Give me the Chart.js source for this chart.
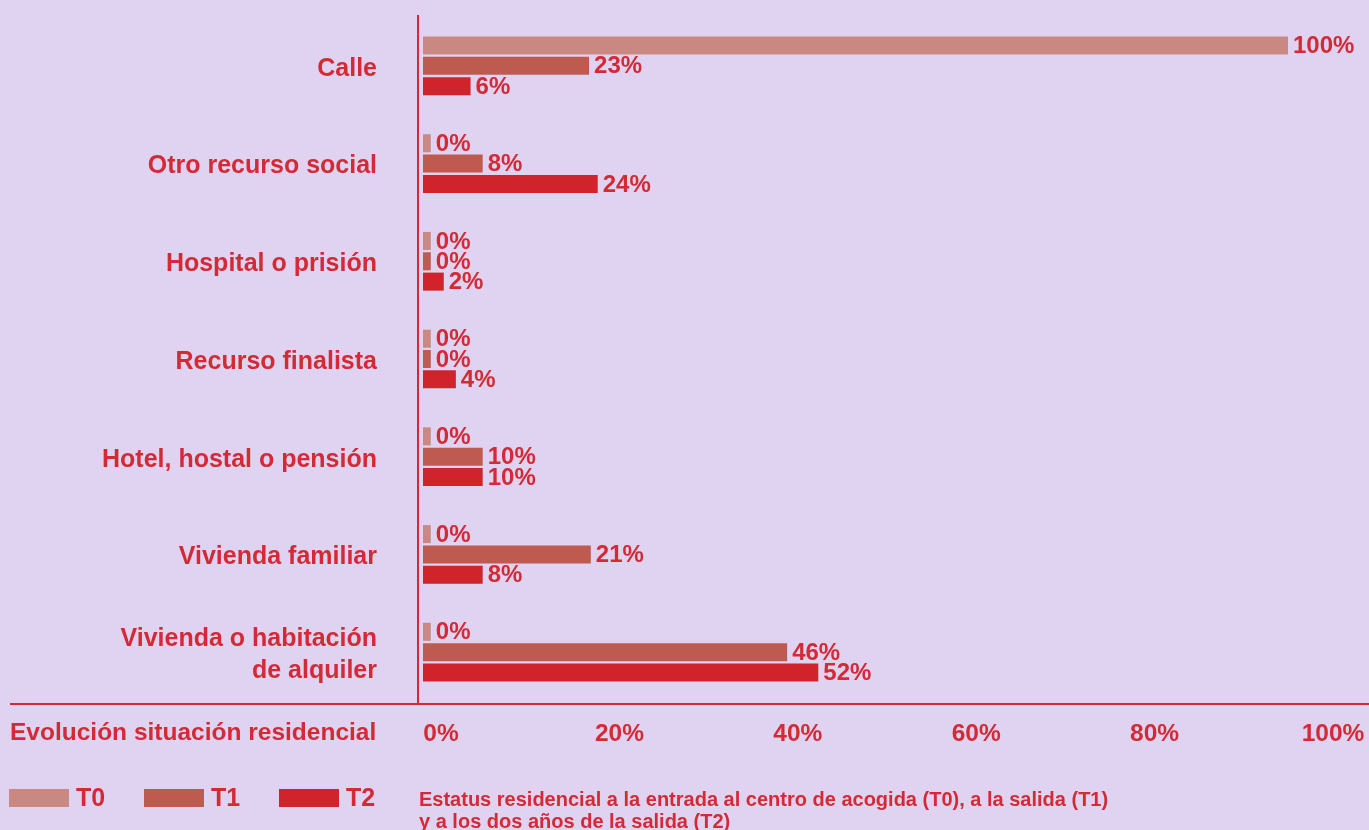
<!DOCTYPE html>
<html>
<head>
<meta charset="utf-8">
<script src="https://cdn.jsdelivr.net/npm/chart.js@4"></script>
<style>
	html, body { margin: 0; padding: 0; background: #DFD3F1; }
	#wrap { width: 1369px; height: 830px; }
</style>
</head>
<body>
<div id="wrap"><canvas id="chart"></canvas></div>
<script>
const categories = [
	'Calle',
	'Otro recurso social',
	'Hospital o prisión',
	'Recurso finalista',
	'Hotel, hostal o pensión',
	'Vivienda familiar',
	['Vivienda o habitación', 'de alquiler'],
]
const seriesNames = ['T0', 'T1', 'T2']

// percentages printed next to each bar
const t0 = [100, 0, 0, 0, 0, 0, 0]
const t1 = [23, 8, 0, 0, 10, 21, 46]
const t2 = [6, 24, 2, 4, 10, 8, 52]

// bar lengths as drawn in the picture (not to scale with the printed values)
const t0Bar = [100, 0.9, 0.9, 0.9, 0.9, 0.9, 0.9]
const t1Bar = [19.2, 6.9, 0.9, 0.9, 6.9, 19.4, 42.1]
const t2Bar = [5.5, 20.2, 2.4, 3.8, 6.9, 6.9, 45.7]

const tickValues = [0, 20, 40, 60, 80, 100]

const title = 'Evolución situación residencial'
const caption = [
	'Estatus residencial a la entrada al centro de acogida (T0), a la salida (T1)',
	'y a los dos años de la salida (T2)',
]

const bg = '#DFD3F1'
const red = '#D42A35'
const colors = ['#C98982', '#BF5A50', '#D1232B']
const family = '"Liberation Sans", Arial, sans-serif'

const decor = {
	id: 'decor',
	beforeDraw(chart) {
		const ctx = chart.ctx
		ctx.save()
		ctx.fillStyle = bg
		ctx.fillRect(0, 0, chart.width, chart.height)
		ctx.restore()
	},
	afterDatasetsDraw(chart) {
		const ctx = chart.ctx
		const printed = [t0, t1, t2]
		ctx.save()
		ctx.fillStyle = red
		ctx.font = `bold 24px ${family}`
		ctx.textAlign = 'left'
		ctx.textBaseline = 'middle'
		chart.data.datasets.forEach((ds, i) => {
			chart.getDatasetMeta(i).data.forEach((bar, j) => {
				ctx.fillText(printed[i][j] + '%', bar.x + 5, bar.y + 1)
			})
		})
		ctx.restore()
	},
	afterDraw(chart) {
		const ctx = chart.ctx
		ctx.save()
		// axis lines
		ctx.fillStyle = red
		ctx.fillRect(417, 15, 2, 690)
		ctx.fillRect(10, 703, chart.width - 10, 2)

		ctx.textAlign = 'left'
		ctx.textBaseline = 'middle'
		ctx.font = `bold 24.5px ${family}`
		ctx.fillText(title, 10, 733)

		// legend
		const legendX = [9, 144, 279]
		seriesNames.forEach((name, i) => {
			ctx.fillStyle = colors[i]
			ctx.fillRect(legendX[i], 789, 60, 18)
			ctx.fillStyle = red
			ctx.font = `bold 25px ${family}`
			ctx.fillText(name, legendX[i] + 67, 799)
		})

		ctx.font = `bold 20px ${family}`
		caption.forEach((line, i) => ctx.fillText(line, 419, 800 + i * 22))
		ctx.restore()
	}
}

const xMax = 100 * (1369 - 423) / 865
const x2Min = -18 / 8.92
const x2Max = x2Min + (1369 - 423) / 8.92

function noPadding(scale) {
	scale.paddingTop = 0
	scale.paddingBottom = 0
	scale.paddingLeft = 0
	scale.paddingRight = 0
}

new Chart(document.getElementById('chart'), {
	type: 'bar',
	data: {
		labels: categories,
		datasets: [
			{ label: seriesNames[0], data: t0Bar, backgroundColor: colors[0] },
			{ label: seriesNames[1], data: t1Bar, backgroundColor: colors[1] },
			{ label: seriesNames[2], data: t2Bar, backgroundColor: colors[2] },
		]
	},
	plugins: [decor],
	options: {
		indexAxis: 'y',
		responsive: true,
		maintainAspectRatio: false,
		animation: false,
		categoryPercentage: 0.624,
		barPercentage: 0.887,
		layout: {
			padding: { top: 17, left: 0, right: 0, bottom: 83 }
		},
		scales: {
			x: {
				type: 'linear',
				display: false,
				min: 0,
				max: xMax,
			},
			x2: {
				type: 'linear',
				position: 'bottom',
				min: x2Min,
				max: x2Max,
				grid: { display: false, drawTicks: false },
				border: { display: false },
				afterBuildTicks: (scale) => {
					scale.ticks = tickValues.map(v => ({ value: v }))
				},
				afterFit: (scale) => {
					scale.height = 46
					noPadding(scale)
				},
				ticks: {
					color: red,
					padding: 19,
					maxRotation: 0,
					font: { family: family, size: 24.5, weight: 'bold' },
					callback: (v) => v + '%'
				}
			},
			y: {
				type: 'category',
				grid: { display: false, drawTicks: false },
				border: { display: false },
				afterFit: (scale) => {
					scale.width = 423
					noPadding(scale)
				},
				ticks: {
					color: red,
					padding: 46,
					labelOffset: 3,
					autoSkip: false,
					font: { family: family, size: 25, weight: 'bold', lineHeight: 1.25 }
				}
			}
		},
		plugins: {
			legend: { display: false },
			tooltip: { enabled: false }
		}
	}
})
</script>
</body>
</html>
